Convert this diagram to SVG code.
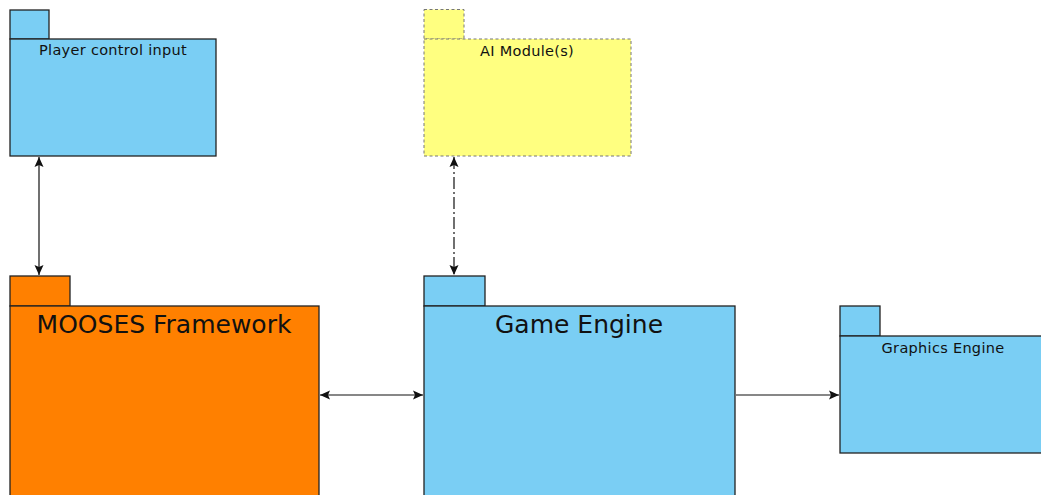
<svg xmlns="http://www.w3.org/2000/svg" width="1041" height="495" viewBox="0 0 1041 495">
  <style>
    .pkg { stroke: #222; stroke-width: 1.3; }
    .blue { fill: #7ACEF4; }
    .orange { fill: #FF8000; }
    .yellow { fill: #FFFF80; stroke: #777; stroke-dasharray: 3 2.5; stroke-width: 1; }
    .label { font-family: "DejaVu Sans", "Noto Sans", sans-serif; fill: #111; text-anchor: middle; }
    .small { font-size: 14.5px; letter-spacing: 0.3px; }
    .big { font-size: 25px; }
    .conn { stroke: #111; stroke-width: 1.2; fill: none; }
    .dashdot { stroke-dasharray: 12 3 2 3; }
  </style>
  <defs>
    <marker id="arrow" viewBox="0 0 10 10" refX="10" refY="5" markerWidth="10" markerHeight="10" markerUnits="userSpaceOnUse" orient="auto-start-reverse">
      <path d="M0,0.5 L10,5 L0,9.5 L2,5 Z" fill="#111"/>
    </marker>
  </defs>

  <g id="player-control-input">
    <rect class="pkg blue" x="10" y="10" width="39" height="29"/>
    <rect class="pkg blue" x="10" y="39" width="206" height="117"/>
    <text class="label small" x="113" y="55">Player control input</text>
  </g>

  <g id="ai-modules">
    <rect class="yellow" x="424" y="9.5" width="40" height="29.5"/>
    <rect class="yellow" x="424" y="39" width="207" height="117"/>
    <text class="label small" x="527" y="56">AI Module(s)</text>
  </g>

  <g id="mooses-framework">
    <rect class="pkg orange" x="10" y="276" width="60" height="30"/>
    <rect class="pkg orange" x="10" y="306" width="309" height="200"/>
    <text class="label big" x="164" y="333">MOOSES Framework</text>
  </g>

  <g id="game-engine">
    <rect class="pkg blue" x="424" y="276" width="61" height="30"/>
    <rect class="pkg blue" x="424" y="306" width="311" height="200"/>
    <text class="label big" x="579" y="333">Game Engine</text>
  </g>

  <g id="graphics-engine">
    <rect class="pkg blue" x="840" y="306" width="40" height="30"/>
    <rect class="pkg blue" x="840" y="336" width="210" height="117"/>
    <text class="label small" x="943" y="353">Graphics Engine</text>
  </g>

  <g id="connectors">
    <line class="conn" x1="39" y1="157" x2="39" y2="275" marker-start="url(#arrow)" marker-end="url(#arrow)"/>
    <line class="conn dashdot" x1="454" y1="157" x2="454" y2="275" marker-start="url(#arrow)" marker-end="url(#arrow)"/>
    <line class="conn" x1="320" y1="395" x2="423" y2="395" marker-start="url(#arrow)" marker-end="url(#arrow)"/>
    <line class="conn" x1="736" y1="395" x2="839" y2="395" marker-end="url(#arrow)"/>
  </g>
</svg>
